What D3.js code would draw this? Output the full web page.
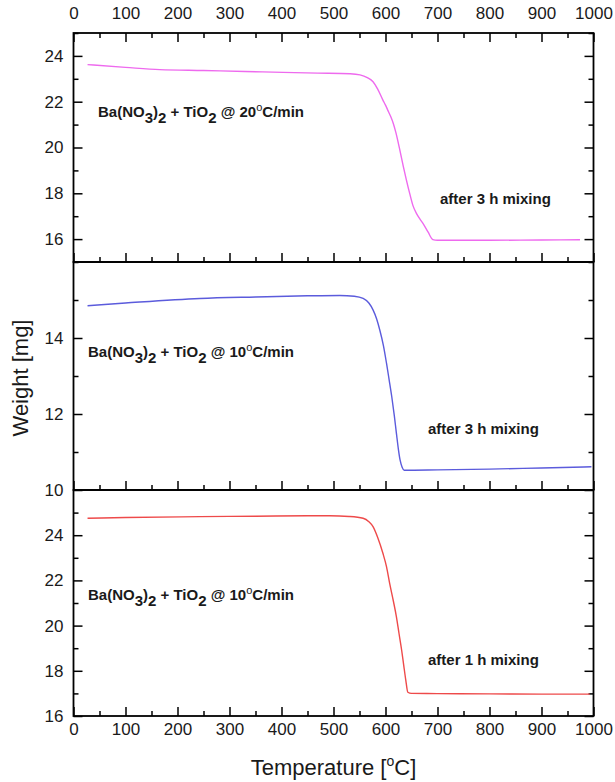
<!DOCTYPE html>
<html>
<head>
<meta charset="utf-8">
<script src="https://cdn.jsdelivr.net/npm/d3@7"></script>
<style>
  html, body { margin: 0; padding: 0; background: #fff; }
  svg { display: block; font-family: "Liberation Sans", Arial, sans-serif; }
</style>
</head>
<body>
<svg id="chart" width="615" height="782"></svg>
<script>
// ---- data ----
const xTicks = [0, 100, 200, 300, 400, 500, 600, 700, 800, 900, 1000];
const xMinorTicks = [50, 150, 250, 350, 450, 550, 650, 750, 850, 950];

// panel 1: 20 °C/min, 3 h mixing
const temp1 = [27, 100, 166, 250, 330, 403, 470, 532, 551, 565, 576, 585, 595, 600, 605, 610, 615, 620, 627, 634, 640, 647, 653, 660, 666, 672, 682, 691, 700, 800, 900, 974];
const weight1 = [23.62, 23.5, 23.4, 23.36, 23.32, 23.28, 23.25, 23.22, 23.17, 23.05, 22.87, 22.55, 22.07, 21.85, 21.6, 21.35, 21.05, 20.65, 19.95, 19.2, 18.6, 17.95, 17.45, 17.1, 16.88, 16.69, 16.3, 15.98, 15.95, 15.95, 15.96, 15.97];
const yTicks1 = [16, 18, 20, 22, 24];
const yMinor1 = [15, 17, 19, 21, 23, 25];

// panel 2: 10 °C/min, 3 h mixing
const temp2 = [27, 100, 243, 350, 450, 512, 540, 557, 568, 576, 583, 589, 596, 602, 607, 612, 617, 621, 625, 628, 632, 636, 700, 800, 900, 996];
const weight2 = [14.85, 14.92, 15.04, 15.08, 15.11, 15.12, 15.1, 15.04, 14.92, 14.74, 14.5, 14.21, 13.8, 13.33, 12.9, 12.46, 11.95, 11.49, 11.05, 10.79, 10.6, 10.52, 10.53, 10.55, 10.58, 10.61];
const yTicks2 = [10, 12, 14];
const yMinor2 = [11, 13, 15];

// panel 3: 10 °C/min, 1 h mixing
const temp3 = [27, 100, 243, 350, 450, 493, 530, 557, 568, 576, 585, 595, 602, 608, 615, 621, 626, 631, 635, 639, 643, 650, 700, 800, 900, 993];
const weight3 = [24.75, 24.78, 24.82, 24.84, 24.86, 24.86, 24.83, 24.75, 24.6, 24.38, 23.9, 23.2, 22.6, 21.87, 21.1, 20.39, 19.65, 18.92, 18.25, 17.59, 17.05, 17.0, 16.99, 16.98, 16.97, 16.97];
const yTicks3 = [16, 18, 20, 22, 24];
const yMinor3 = [17, 19, 21, 23, 25];

const xTitle = "Temperature [", xTitleSup = "o", xTitleEnd = "C]";
const yTitle = "Weight [mg]";

// ---- layout ----
const svg = d3.select("#chart");
const left = 73.5, right = 593.5;
const x = d3.scaleLinear().domain([0, 1000]).range([left, right]);

const panels = [
  { top: 33, bottom: 262, domain: [15, 25], temp: temp1, w: weight1, ticks: yTicks1, minor: yMinor1,
    color: "#ee6aee", rate: "20", mix: "after 3 h mixing",
    lab: [98, 117], mixPos: [440, 204], topAxis: true },
  { top: 262, bottom: 490, domain: [10, 16], temp: temp2, w: weight2, ticks: yTicks2, minor: yMinor2,
    color: "#5b5bdc", rate: "10", mix: "after 3 h mixing",
    lab: [88, 357], mixPos: [428, 434], topAxis: false },
  { top: 490, bottom: 716, domain: [16, 26], temp: temp3, w: weight3, ticks: yTicks3, minor: yMinor3,
    color: "#ee4a4a", rate: "10", mix: "after 1 h mixing",
    lab: [88, 600], mixPos: [428, 665], topAxis: false }
];

function styleAxis(g) {
  g.select(".domain").remove();
  g.selectAll(".tick line").attr("stroke", "#000").attr("stroke-width", 1.5);
  g.selectAll(".tick text").attr("fill", "#1a1a1a").style("font-size", "17px")
    .style("font-family", '"Liberation Sans", Arial, sans-serif');
}

panels.forEach((p, i) => {
  const y = d3.scaleLinear().domain(p.domain).range([p.bottom, p.top]);

  // left axis (major with labels, minor without)
  svg.append("g").attr("transform", `translate(${left},0)`)
    .call(d3.axisLeft(y).tickValues(p.ticks).tickFormat(d3.format("d")).tickSizeInner(-9).tickSizeOuter(0).tickPadding(10))
    .call(styleAxis);
  svg.append("g").attr("transform", `translate(${left},0)`)
    .call(d3.axisLeft(y).tickValues(p.minor).tickFormat("").tickSizeInner(-5).tickSizeOuter(0))
    .call(styleAxis);
  // right axis
  svg.append("g").attr("transform", `translate(${right},0)`)
    .call(d3.axisRight(y).tickValues(p.ticks).tickFormat("").tickSizeInner(-9).tickSizeOuter(0))
    .call(styleAxis);
  svg.append("g").attr("transform", `translate(${right},0)`)
    .call(d3.axisRight(y).tickValues(p.minor).tickFormat("").tickSizeInner(-5).tickSizeOuter(0))
    .call(styleAxis);

  // bottom axis ticks (inward)
  svg.append("g").attr("transform", `translate(0,${p.bottom})`)
    .call(d3.axisBottom(x).tickValues(xTicks).tickFormat(i === 2 ? d3.format("d") : "").tickSizeInner(-9).tickSizeOuter(0).tickPadding(7))
    .call(styleAxis);
  svg.append("g").attr("transform", `translate(0,${p.bottom})`)
    .call(d3.axisBottom(x).tickValues(xMinorTicks).tickFormat("").tickSizeInner(-5).tickSizeOuter(0))
    .call(styleAxis);

  if (p.topAxis) {
    svg.append("g").attr("transform", `translate(0,${p.top})`)
      .call(d3.axisTop(x).tickValues(xTicks).tickFormat(d3.format("d")).tickSizeInner(-9).tickSizeOuter(0).tickPadding(14))
      .call(styleAxis);
    svg.append("g").attr("transform", `translate(0,${p.top})`)
      .call(d3.axisTop(x).tickValues(xMinorTicks).tickFormat("").tickSizeInner(-5).tickSizeOuter(0))
      .call(styleAxis);
  }

  // frame
  svg.append("rect").attr("x", left).attr("y", p.top)
    .attr("width", right - left).attr("height", p.bottom - p.top)
    .attr("fill", "none").attr("stroke", "#000").attr("stroke-width", 1.8);

  // curve
  const pts = p.temp.map((t, k) => [t, p.w[k]]);
  svg.append("path").datum(pts)
    .attr("fill", "none").attr("stroke", p.color).attr("stroke-width", 1.4)
    .attr("d", d3.line().x(d => x(d[0])).y(d => y(d[1])).curve(d3.curveMonotoneX));

  // annotation: Ba(NO3)2 + TiO2 @ xx°C/min
  const t = svg.append("text").attr("x", p.lab[0]).attr("y", p.lab[1])
    .attr("font-size", 15).attr("font-weight", "bold").attr("fill", "#1a1a1a");
  t.append("tspan").text("Ba(NO");
  t.append("tspan").attr("dy", 6).text("3");
  t.append("tspan").attr("dy", -6).text(")");
  t.append("tspan").attr("dy", 6).text("2");
  t.append("tspan").attr("dy", -6).text(" + TiO");
  t.append("tspan").attr("dy", 6).text("2");
  t.append("tspan").attr("dy", -6).text(" @ " + p.rate);
  t.append("tspan").attr("dy", -6).attr("font-size", 11).attr("font-weight", "normal").text("o");
  t.append("tspan").attr("dy", 6).text("C/min");

  svg.append("text").attr("x", p.mixPos[0]).attr("y", p.mixPos[1])
    .attr("font-size", 15).attr("font-weight", "bold").attr("fill", "#1a1a1a").text(p.mix);
});

// axis titles
const xt = svg.append("text").attr("x", (left + right) / 2).attr("y", 775)
  .attr("text-anchor", "middle").attr("font-size", 22).attr("fill", "#1a1a1a");
xt.append("tspan").text(xTitle);
xt.append("tspan").attr("dy", -9).attr("font-size", 14).text(xTitleSup);
xt.append("tspan").attr("dy", 9).text(xTitleEnd);

svg.append("text").attr("transform", "translate(28,378) rotate(-90)")
  .attr("text-anchor", "middle").attr("font-size", 22).attr("fill", "#1a1a1a").text(yTitle);
</script>
</body>
</html>
